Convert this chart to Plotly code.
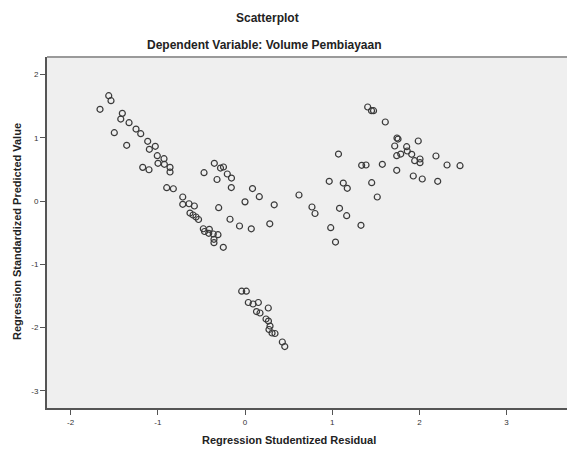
import plotly.graph_objects as go

residual = [
    -1.663, -1.563, -1.537, -1.407, -1.425, -1.330, -1.250, -1.196, -1.499, -1.357,
    -1.116, -1.029, -1.097, -1.006, -0.929, -0.998, -0.925, -0.860, -0.860, -1.173,
    -1.101, -0.898, -0.822, -0.714, -0.714, -0.642, -0.581, -0.631, -0.596, -0.562,
    -0.533, -0.478, -0.464, -0.409, -0.416, -0.364, -0.310, -0.356, -0.356, -0.249,
    -0.470, -0.352, -0.281, -0.247, -0.203, -0.155, -0.321, -0.157, -0.302, -0.172,
    -0.063, 0.072, 0.000, 0.086, 0.164, 0.335, 0.284,
    -0.038, 0.015, 0.038, 0.092, 0.153, 0.132, 0.172, 0.267, 0.241, 0.269,
    0.287, 0.275, 0.310, 0.344, 0.428, 0.456,
    0.619, 0.768, 0.803, 0.983, 1.038, 0.966, 1.072, 1.084, 1.166, 1.127,
    1.173, 1.330, 1.338, 1.388, 1.453, 1.517, 1.575, 1.407, 1.451, 1.474,
    1.609, 1.743, 1.755, 1.717, 1.854, 1.987, 1.786, 1.740, 1.861, 1.912,
    1.946, 2.007, 2.007, 2.190, 2.317, 2.466, 1.740, 1.930, 2.033, 2.210,
]

predicted = [
    1.449, 1.664, 1.585, 1.385, 1.295, 1.237, 1.137, 1.063, 1.079, 0.880,
    0.943, 0.864, 0.817, 0.716, 0.668, 0.596, 0.580, 0.532, 0.458, 0.532,
    0.494, 0.210, 0.194, 0.063, -0.052, -0.043, -0.079, -0.190, -0.221, -0.253,
    -0.292, -0.438, -0.482, -0.447, -0.510, -0.521, -0.532, -0.605, -0.659, -0.731,
    0.447, 0.596, 0.521, 0.537, 0.427, 0.363, 0.340, 0.213, -0.106, -0.288,
    -0.395, -0.439, -0.013, 0.197, 0.068, -0.060, -0.360,
    -1.425, -1.425, -1.603, -1.627, -1.603, -1.746, -1.769, -1.690, -1.864, -1.896,
    -1.975, -2.030, -2.085, -2.093, -2.227, -2.299,
    0.095, -0.095, -0.197, -0.422, -0.648, 0.311, 0.742, -0.115, -0.232, 0.284,
    0.201, -0.384, 0.564, 0.569, 0.289, 0.063, 0.580, 1.485, 1.427, 1.427,
    1.248, 0.995, 0.979, 0.869, 0.858, 0.948, 0.742, 0.716, 0.790, 0.738,
    0.637, 0.664, 0.605, 0.711, 0.569, 0.558, 0.485, 0.395, 0.348, 0.311,
]

x_ticks = [-2, -1, 0, 1, 2, 3]
y_ticks = [-3, -2, -1, 0, 1, 2]

title_text = "Scatterplot"
subtitle_text = "Dependent Variable: Volume Pembiayaan"
x_title = "Regression Studentized Residual"
y_title = "Regression Standardized Predicted Value"

W, H = 567, 454
# plot area in window pixels
PL, PR, PT, PB = 47, 567, 57, 408
L, R, T, B = PL, W - PR, PT, H - PB
pw, ph = PR - PL, PB - PT

def px_x(p):
    return (p - PL) / pw

def px_y(p):
    return (PB - p) / ph

fig = go.Figure()
fig.add_trace(go.Scatter(
    x=residual, y=predicted, mode="markers",
    marker=dict(symbol="circle-open", size=6, color="#3a3a3a",
                line=dict(width=1.2, color="#3a3a3a")),
    showlegend=False, hoverinfo="skip",
))

font_family = "Liberation Sans, Arial, sans-serif"

fig.update_layout(
    width=W, height=H,
    margin=dict(l=L, r=R, t=T, b=B),
    paper_bgcolor="white",
    plot_bgcolor="#efefef",
    font=dict(family=font_family, color="#222"),
    xaxis=dict(
        range=[-2.271, 3.693], tickvals=x_ticks, ticktext=[str(v) for v in x_ticks],
        showgrid=False, zeroline=False,
        showline=True, linecolor="#555", linewidth=2,
        ticks="outside", ticklen=5, tickwidth=1, tickcolor="#555",
        tickfont=dict(size=8, color="#333"),
    ),
    yaxis=dict(
        range=[-3.270, 2.275], tickvals=y_ticks, ticktext=[str(v) for v in y_ticks],
        showgrid=False, zeroline=False,
        showline=True, linecolor="#555", linewidth=2,
        ticks="outside", ticklen=5, tickwidth=1, tickcolor="#555",
        tickfont=dict(size=8, color="#333"),
    ),
    shapes=[dict(type="line", xref="paper", yref="paper", x0=0, x1=1, y0=1, y1=1,
                 line=dict(color="#9a9a9a", width=2))],
    annotations=[
        dict(text="<b>" + title_text + "</b>", xref="paper", yref="paper",
             x=px_x(267), y=px_y(18), xanchor="center", yanchor="middle",
             showarrow=False, font=dict(size=12, color="#222")),
        dict(text="<b>" + subtitle_text + "</b>", xref="paper", yref="paper",
             x=px_x(264), y=px_y(45), xanchor="center", yanchor="middle",
             showarrow=False, font=dict(size=12, color="#222")),
        dict(text="<b>" + x_title + "</b>", xref="paper", yref="paper",
             x=px_x(289), y=px_y(440), xanchor="center", yanchor="middle",
             showarrow=False, font=dict(size=11, color="#222")),
        dict(text="<b>" + y_title + "</b>", xref="paper", yref="paper",
             x=px_x(17), y=px_y(232), xanchor="center", yanchor="middle",
             textangle=-90, showarrow=False, font=dict(size=11, color="#222")),
    ],
)

fig.write_html(
    "out.html",
    config={"displayModeBar": False},
    post_script="document.body.style.margin='0';document.body.style.overflow='hidden';",
)
